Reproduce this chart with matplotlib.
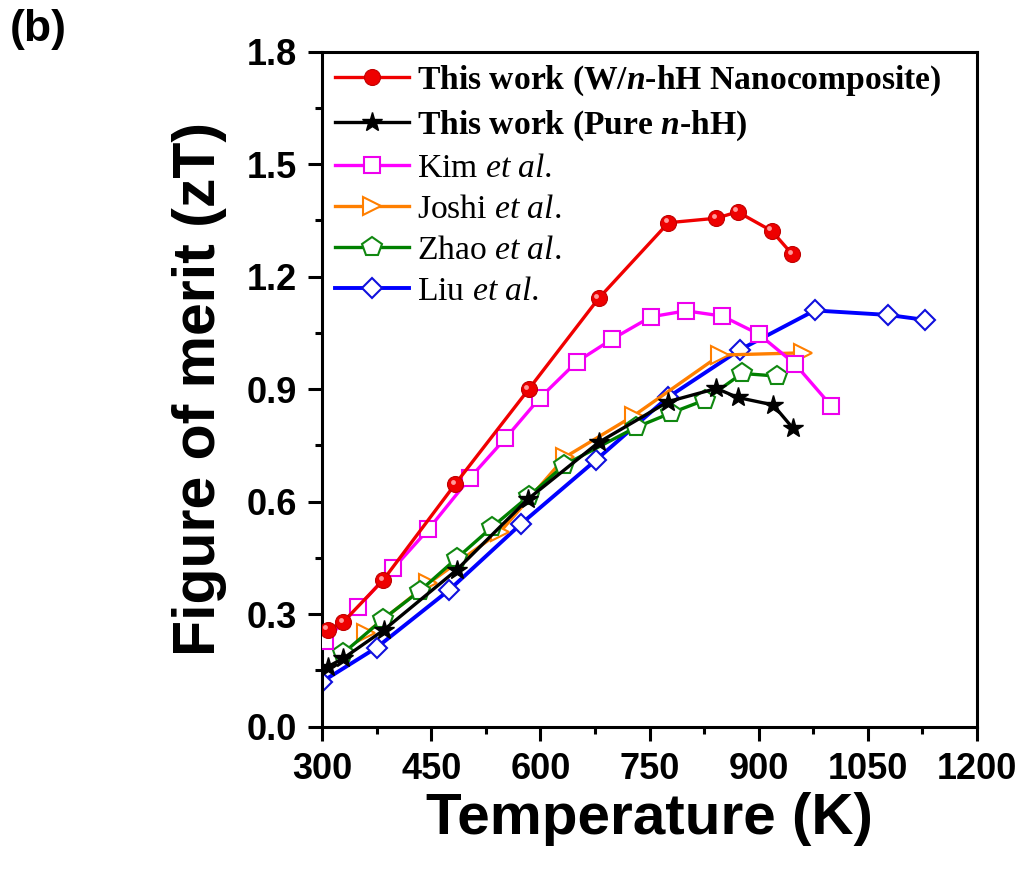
import matplotlib
matplotlib.use("Agg")
import matplotlib.pyplot as plt
from matplotlib.ticker import MultipleLocator, FormatStrFormatter
from matplotlib.transforms import offset_copy

plt.rcParams["font.family"] = "Liberation Sans"
plt.rcParams["mathtext.fontset"] = "custom"
plt.rcParams["mathtext.rm"] = "Liberation Serif"
plt.rcParams["mathtext.it"] = "Liberation Serif:italic"
plt.rcParams["mathtext.bf"] = "Liberation Serif:bold"
plt.rcParams["mathtext.bfit"] = "Liberation Serif:italic:bold"

# zT vs temperature
w_hh_T = [308, 329, 384, 483, 584, 680, 776, 842, 871, 918, 946]
w_hh_zt = [0.258, 0.279, 0.391, 0.647, 0.900, 1.142, 1.344, 1.356, 1.373, 1.322, 1.260]

pure_T = [308, 329, 385, 485, 583, 680, 776, 842, 871, 920, 947]
pure_zt = [0.160, 0.182, 0.258, 0.418, 0.607, 0.758, 0.867, 0.902, 0.878, 0.858, 0.796]

kim_T = [304, 350, 398, 446, 503, 552, 599, 650, 699, 752, 800, 850, 900, 950, 1000]
kim_zt = [0.229, 0.320, 0.422, 0.526, 0.663, 0.769, 0.876, 0.973, 1.034, 1.093, 1.109, 1.095, 1.047, 0.967, 0.855]

joshi_T = [360, 446, 545, 634, 728, 847, 961]
joshi_zt = [0.249, 0.382, 0.520, 0.719, 0.829, 0.991, 0.997]

zhao_T = [329, 384, 435, 485, 534, 585, 633, 731, 780, 826, 877, 925]
zhao_zt = [0.196, 0.287, 0.363, 0.449, 0.533, 0.616, 0.698, 0.798, 0.837, 0.871, 0.942, 0.935]

liu_T = [300, 375, 475, 573, 677, 775, 874, 977, 1078, 1128]
liu_zt = [0.120, 0.211, 0.365, 0.540, 0.712, 0.878, 1.005, 1.110, 1.098, 1.085]

labels = [
    r"This work (W/$\mathbfit{n}$-hH Nanocomposite)",
    r"This work (Pure $\mathbfit{n}$-hH)",
    r"Kim $\mathit{et\ al.}$",
    r"Joshi $\mathit{et\ al.}$",
    r"Zhao $\mathit{et\ al.}$",
    r"Liu $\mathit{et\ al.}$",
]

fig = plt.figure(figsize=(10.24, 8.75), dpi=100)
ax = fig.add_axes([0.3145, 0.1695, 0.6396, 0.7714])

lw = 2.4
h_red, = ax.plot(w_hh_T, w_hh_zt, "-o", color="#f00000", lw=lw, ms=11.5,
                 mfc="#ee0000", mec="#c00000", mew=0.8, zorder=7, label=labels[0])
# small highlight so the red points read as shaded spheres
hl = offset_copy(ax.transData, fig=fig, x=-2.5, y=2.5, units="dots")
ax.plot(w_hh_T, w_hh_zt, "o", color="#ff9a9a", ms=3.5, mew=0, transform=hl, zorder=8)

h_blk, = ax.plot(pure_T, pure_zt, "-*", color="black", lw=lw, ms=15,
                 zorder=6, label=labels[1])
h_kim, = ax.plot(kim_T, kim_zt, "-s", color="#ff00ff", lw=lw, ms=11,
                 mfc="white", mec="#ee00ee", mew=1.5, zorder=5, label=labels[2])
h_jos, = ax.plot(joshi_T, joshi_zt, "->", color="#ff7f00", lw=lw, ms=13,
                 mfc="white", mec="#ff7f00", mew=1.5, zorder=3, label=labels[3])
h_zha, = ax.plot(zhao_T, zhao_zt, "-p", color="#008000", lw=lw, ms=15,
                 mfc="white", mec="#118811", mew=1.5, zorder=4, label=labels[4])
h_liu, = ax.plot(liu_T, liu_zt, "-D", color="#0000ff", lw=lw + 0.4, ms=10,
                 mfc="white", mec="#1010dd", mew=1.5, zorder=2, label=labels[5])

ax.set_xlim(300, 1200)
ax.set_ylim(0, 1.8)
ax.xaxis.set_major_locator(MultipleLocator(150))
ax.xaxis.set_minor_locator(MultipleLocator(75))
ax.yaxis.set_major_locator(MultipleLocator(0.3))
ax.yaxis.set_minor_locator(MultipleLocator(0.15))
ax.yaxis.set_major_formatter(FormatStrFormatter("%.1f"))

for sp in ax.spines.values():
    sp.set_linewidth(2.2)
ax.tick_params(which="major", direction="out", length=10, width=2.2, pad=8,
               labelsize=26, top=False, right=False)
ax.tick_params(which="minor", direction="out", length=5, width=2.2,
               top=False, right=False)
for lab in ax.get_xticklabels() + ax.get_yticklabels():
    lab.set_fontweight("bold")

ax.set_xlabel("Temperature (K)", fontsize=42, fontweight="bold")
ax.set_ylabel("Figure of merit (zT)", fontsize=42.5, fontweight="bold")
ax.xaxis.set_label_coords(0.5, -0.097)
ax.yaxis.set_label_coords(-0.145, 0.5)

leg = ax.legend(loc="upper left", bbox_to_anchor=(0.02, 0.982), frameon=False,
                borderpad=0, borderaxespad=0, handlelength=2.2, handletextpad=0.25,
                labelspacing=0.31, numpoints=1, fontsize=24.2)
for i, txt in enumerate(leg.get_texts()):
    txt.set_family("Liberation Serif")
    if i < 2:
        txt.set_fontweight("bold")

fig.text(0.01, 1 - 30 / 875, "(b)", fontsize=32, fontweight="bold", va="center")

fig.savefig("out.png", dpi=100)
